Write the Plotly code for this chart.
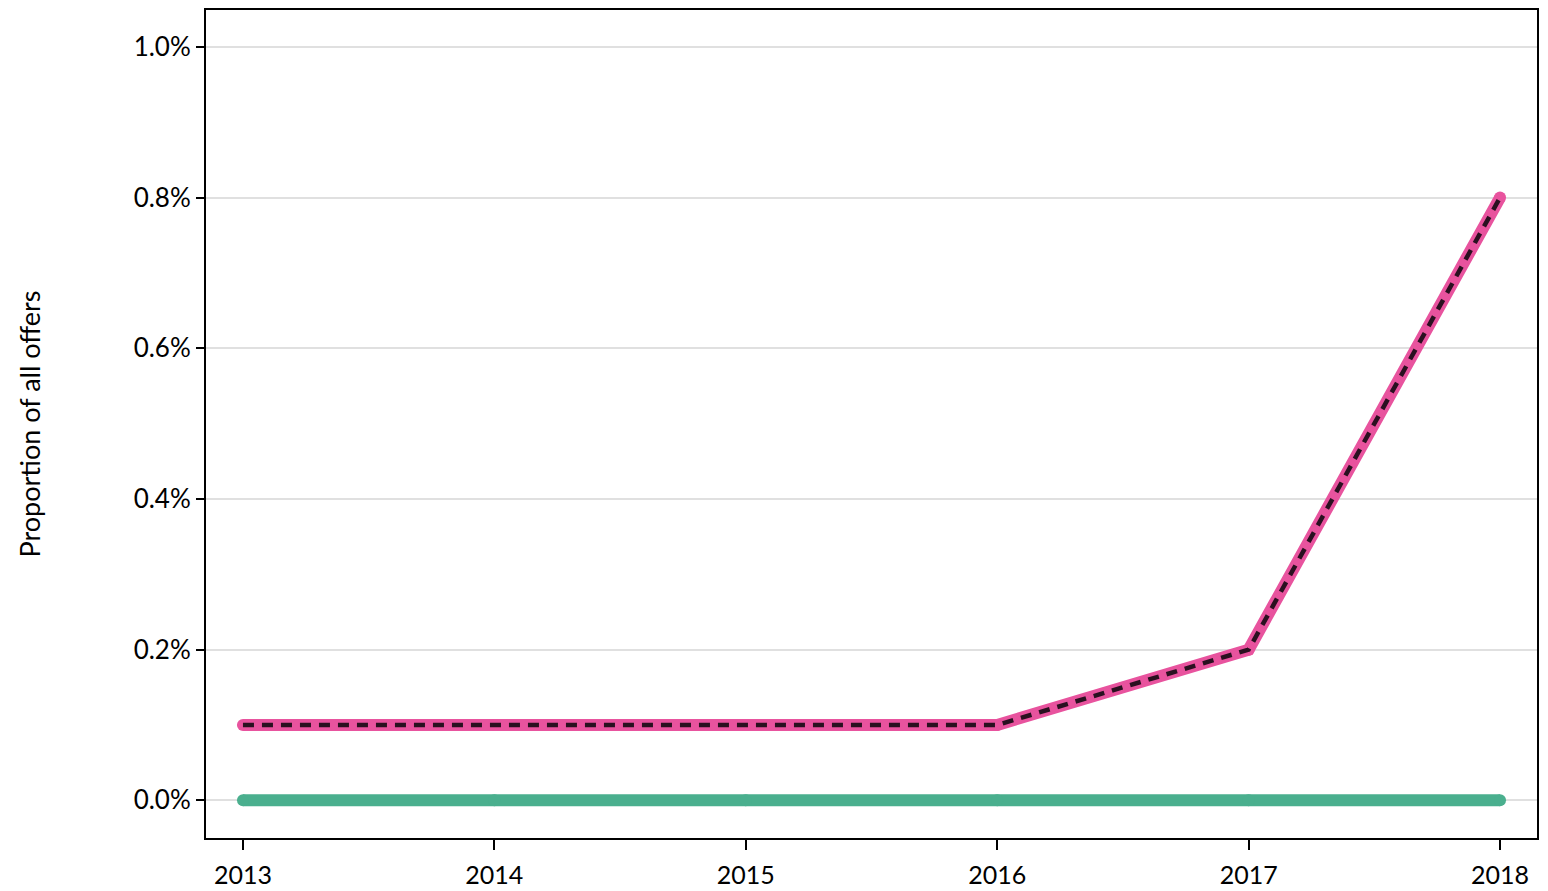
import plotly.graph_objects as go

years = [2013, 2014, 2015, 2016, 2017, 2018]
pink_values = [0.1, 0.1, 0.1, 0.1, 0.2, 0.8]
green_values = [0.0, 0.0, 0.0, 0.0, 0.0, 0.0]
y_ticks = [0.0, 0.2, 0.4, 0.6, 0.8, 1.0]
y_tick_labels = ["0.0%", "0.2%", "0.4%", "0.6%", "0.8%", "1.0%"]

PINK = "#e8539e"
GREEN = "#4aaf8e"
FONT = "Lato"

fig = go.Figure()
fig.add_trace(go.Scatter(x=years, y=green_values, mode="lines+markers",
                         line=dict(color=GREEN, width=12),
                         marker=dict(color=GREEN, size=12, line=dict(width=0)),
                         showlegend=False, hoverinfo="skip"))
fig.add_trace(go.Scatter(x=years, y=pink_values, mode="lines+markers",
                         line=dict(color=PINK, width=12),
                         marker=dict(color=PINK, size=12, line=dict(width=0)),
                         showlegend=False, hoverinfo="skip"))
fig.add_trace(go.Scatter(x=years, y=pink_values, mode="lines",
                         line=dict(color="#2a1020", width=4.5, dash="11px,8px"),
                         showlegend=False, hoverinfo="skip"))

fig.update_layout(
    width=1540, height=883,
    margin=dict(l=198, r=11, t=0, b=53),
    plot_bgcolor="white", paper_bgcolor="white",
    font=dict(family=FONT, size=26, color="black"),
)
fig.update_xaxes(
    range=[2012.853, 2018.147], tickvals=years, ticktext=[str(y) for y in years],
    showgrid=False, zeroline=False,
    showline=True, linecolor="black", linewidth=2, mirror=True,
    ticks="outside", ticklen=10, tickwidth=2, tickcolor="black",
    ticklabelstandoff=4,
    tickfont=dict(family=FONT, size=25, color="black"),
)
fig.update_yaxes(
    range=[-0.05, 1.049], tickvals=y_ticks, ticktext=y_tick_labels,
    showgrid=True, gridcolor="#e0e0e0", gridwidth=2, zeroline=False,
    showline=True, linecolor="black", linewidth=2, mirror=True,
    ticks="outside", ticklen=8, tickwidth=2, tickcolor="black",
    tickfont=dict(family=FONT, size=26, color="black"),
    title=dict(text="Proportion of all offers", standoff=85,
               font=dict(family=FONT, size=27, color="black")),
)

fig.write_html("out.html")
